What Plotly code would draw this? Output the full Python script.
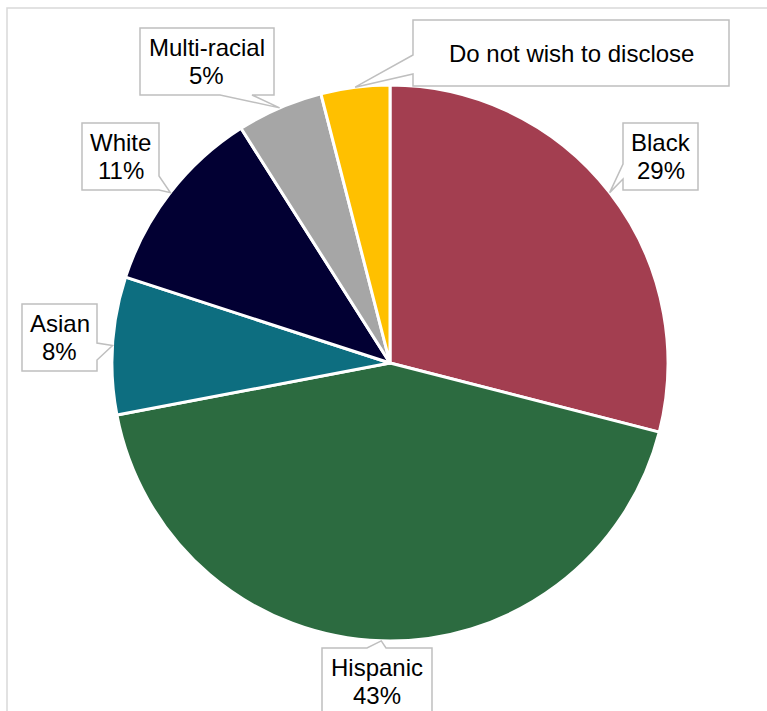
import math
import plotly.graph_objects as go

# Share of respondents by race / ethnicity
categories = ["Black", "Hispanic", "Asian", "White", "Multi-racial", "Do not wish to disclose"]
shares = [29, 43, 8, 11, 5, 4]
label_lines = [["Black", "29%"], ["Hispanic", "43%"], ["Asian", "8%"], ["White", "11%"],
               ["Multi-racial", "5%"], ["Do not wish to disclose"]]
colors = ["#A33E50", "#2C6B40", "#0D6E80", "#020033", "#A6A6A6", "#FFC000"]

W, H = 767, 711
CX, CY, R = 390, 363, 278  # pie centre and radius in pixels
LINE_GAP = 28  # distance between label lines in pixels

# Callout boxes (pixels): x0, y0, x1, y1, side of the pointer, pointer base span
callouts = {
    "Black": (623, 123, 698, 190, "left", (164, 179)),
    "Hispanic": (322, 648, 432, 730, "top", (367, 386)),
    "Asian": (22, 304, 97, 371, "right", (343, 360)),
    "White": (82, 123, 159, 190, "right", (176, 190)),
    "Multi-racial": (140, 28, 274, 95, "bottom", (220, 252)),
    "Do not wish to disclose": (413, 20, 729, 86, "left", (55, 74)),
}


def px(x, y):
    return x / W, 1 - y / H


def callout_path(box, tip):
    x0, y0, x1, y1, side, (a, b) = box
    tx, ty = tip
    pts = [(x0, y0)]
    # walk clockwise: top, right, bottom, left
    if side == "top":
        pts += [(a, y0), (tx, ty), (b, y0)]
    pts.append((x1, y0))
    if side == "right":
        pts += [(x1, a), (tx, ty), (x1, b)]
    pts.append((x1, y1))
    if side == "bottom":
        pts += [(b, y1), (tx, ty), (a, y1)]
    pts.append((x0, y1))
    if side == "left":
        pts += [(x0, b), (tx, ty), (x0, a)]
    coords = [px(x, y) for x, y in pts]
    return "M " + " L ".join(f"{x:.5f},{y:.5f}" for x, y in coords) + " Z"


fig = go.Figure(go.Pie(
    labels=categories,
    values=shares,
    sort=False,
    direction="clockwise",
    rotation=0,
    marker=dict(colors=colors, line=dict(color="white", width=3)),
    textinfo="none",
    hoverinfo="label+percent",
    domain=dict(x=[(CX - R) / W, (CX + R) / W], y=[1 - (CY + R) / H, 1 - (CY - R) / H]),
))

shapes = []
annotations = []
total = sum(shares)
cum = 0
for cat, val, lines in zip(categories, shares, label_lines):
    mid = (cum + val / 2) / total * 2 * math.pi
    cum += val
    tip = (CX + R * math.sin(mid), CY - R * math.cos(mid))
    box = callouts[cat]
    shapes.append(dict(type="path", xref="paper", yref="paper", layer="above",
                       path=callout_path(box, tip), fillcolor="white",
                       line=dict(color="#BFBFBF", width=1.5)))
    x0, y0, x1, y1 = box[:4]
    yc = (y0 + min(y1, 715)) / 2
    n = len(lines)
    for i, line in enumerate(lines):
        ly = yc + (i - (n - 1) / 2) * LINE_GAP
        ax, ay = px((x0 + x1) / 2, ly)
        annotations.append(dict(x=ax, y=ay, xref="paper", yref="paper", text=line,
                                showarrow=False, xanchor="center", yanchor="middle",
                                align="center",
                                font=dict(family="Liberation Sans, Arial", size=24, color="black")))

# chart frame
fx0, fy0 = px(7, 711)
fx1, fy1 = px(7, 8)
fx2, fy2 = px(767, 8)
shapes.insert(0, dict(type="path", xref="paper", yref="paper", layer="above",
                      path=f"M {fx0},{fy0} L {fx1},{fy1} L {fx2},{fy2}",
                      line=dict(color="#D9D9D9", width=1.5)))

fig.update_layout(
    width=W, height=H,
    margin=dict(l=0, r=0, t=0, b=0),
    paper_bgcolor="white",
    showlegend=False,
    shapes=shapes,
    annotations=annotations,
)

fig.write_html("out.html")
